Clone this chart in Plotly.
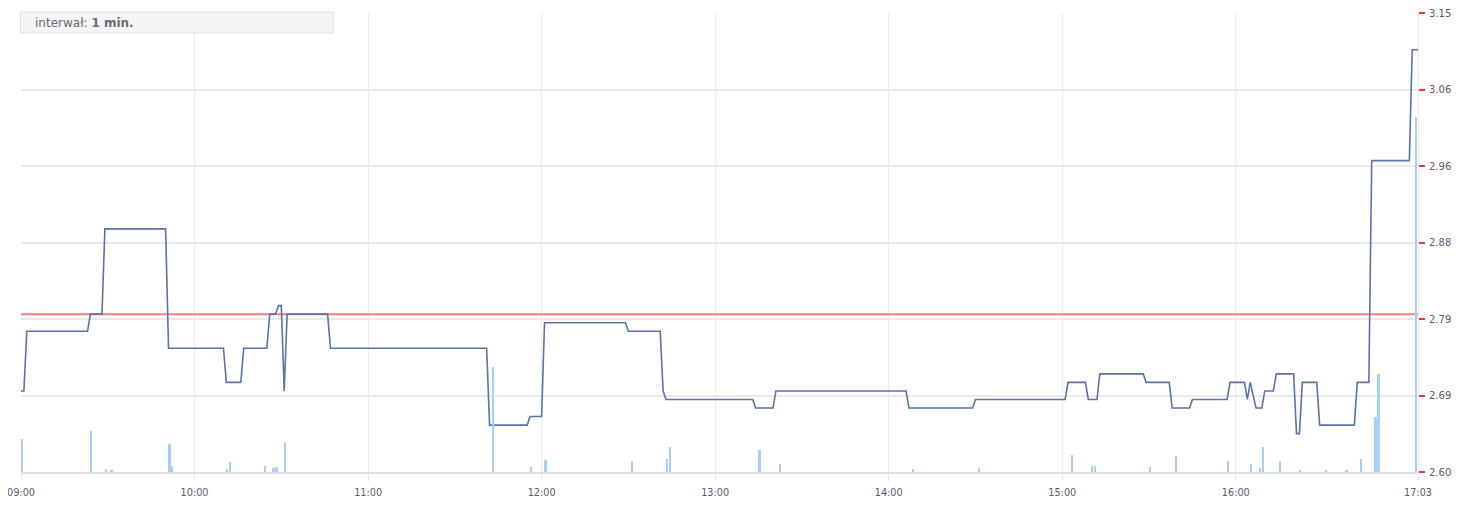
import plotly.graph_objects as go
import numpy as np
import pandas as pd

DAY = "2024-01-02 "

# Price path (vertices of the intraday line), 1-minute interval
price_times = ["09:00","09:01","09:02","09:23","09:24","09:28","09:29","09:50","09:51","10:10",
               "10:11","10:16","10:17","10:25","10:26","10:28","10:29","10:30","10:31","10:32",
               "10:46","10:47","11:41","11:42","11:55","11:56","12:00","12:01","12:29","12:30",
               "12:41","12:42","12:43","13:13","13:14","13:20","13:21","14:06","14:07","14:29",
               "14:30","15:01","15:02","15:08","15:09","15:12","15:13","15:28","15:29","15:37",
               "15:38","15:44","15:45","15:57","15:58","16:03","16:04","16:05","16:07","16:09",
               "16:10","16:13","16:14","16:20","16:21","16:22","16:23","16:28","16:29","16:41",
               "16:42","16:46","16:47","17:00","17:01","17:03"]
prices = [2.70,2.70,2.77,2.77,2.79,2.79,2.89,2.89,2.75,2.75,
          2.71,2.71,2.75,2.75,2.79,2.79,2.80,2.80,2.70,2.79,
          2.79,2.75,2.75,2.66,2.66,2.67,2.67,2.78,2.78,2.77,
          2.77,2.70,2.69,2.69,2.68,2.68,2.70,2.70,2.68,2.68,
          2.69,2.69,2.71,2.71,2.69,2.69,2.72,2.72,2.71,2.71,
          2.68,2.68,2.69,2.69,2.71,2.71,2.69,2.71,2.68,2.68,
          2.70,2.70,2.72,2.72,2.65,2.65,2.71,2.71,2.66,2.66,
          2.71,2.71,2.97,2.97,3.10,3.10]

# Volume per minute
volume_times = ["09:00","09:24","09:29","09:31","09:51","09:52","10:11","10:12","10:24","10:27",
                "10:28","10:31","11:43","11:56","12:01","12:31","12:43","12:44","13:15","13:22",
                "14:08","14:31","15:03","15:10","15:11","15:30","15:39","15:57","16:05","16:08",
                "16:09","16:15","16:22","16:31","16:38","16:43","16:48","16:49","17:02","17:03"]
volumes = [3300,4100,350,250,2800,600,350,1000,600,400,
           500,3000,10500,500,1200,1100,1300,2500,2200,800,
           300,400,1700,600,600,500,1600,1100,800,400,
           2500,1100,200,200,150,1300,5500,9800,35500,2100]

reference_price = 2.79
session = ["09:00", "17:03"]

x_tick_labels = ["09:00","10:00","11:00","12:00","13:00","14:00","15:00","16:00","17:03"]
y_tick_labels = ["2.60","2.69","2.79","2.88","2.96","3.06","3.15"]

y_min, y_max = 2.605, 3.143
vol_max = 45900

def ts(t):
    return pd.Timestamp(DAY + t)

fig = go.Figure()

fig.add_trace(go.Bar(
    x=[ts(t) for t in volume_times], y=volumes, yaxis="y2",
    marker=dict(color="#a6d0fa", line=dict(width=0)),
    width=48000, offset=-6000, hoverinfo="skip"))

fig.add_trace(go.Scatter(
    x=[ts(t) for t in session], y=[reference_price, reference_price],
    mode="lines", line=dict(color="#f27f7f", width=2), hoverinfo="skip"))

fig.add_trace(go.Scatter(
    x=[ts(t) for t in price_times], y=prices,
    mode="lines", line=dict(color="#5b73ab", width=1.6)))

font_family = "DejaVu Sans, Verdana, sans-serif"
y_tick_font = dict(family=font_family, size=10, color="#5a5a6a")
x_tick_font = dict(family=font_family, size=9.7, color="#5a5a6a")

fig.update_layout(
    width=1463, height=506,
    margin=dict(l=12.7, r=53, t=5, b=42),
    paper_bgcolor="white", plot_bgcolor="white",
    showlegend=False, bargap=0,
    xaxis=dict(
        range=[ts(session[0]), ts(session[1])],
        tickvals=[ts(t) for t in x_tick_labels], ticktext=x_tick_labels,
        showgrid=True, gridcolor="#ececec", gridwidth=1,
        ticks="outside", ticklen=7, tickcolor="#e6e6e6",
        showline=True, linecolor="#dedede", linewidth=2,
        tickfont=x_tick_font, ticklabelstandoff=3, zeroline=False, fixedrange=True,
        automargin=False, ticklabeloverflow="allow"),
    yaxis=dict(
        side="right", range=[y_min, y_max],
        tickvals=list(np.linspace(y_min, y_max, len(y_tick_labels))), ticktext=y_tick_labels,
        showgrid=True, gridcolor="#e9e9e9", gridwidth=1.5,
        ticks="outside", ticklen=6, tickwidth=2, tickcolor="#e53935",
        showline=True, linecolor="#ececec", linewidth=1,
        tickfont=y_tick_font, ticklabelstandoff=2, zeroline=False,
        automargin=False, ticklabeloverflow="allow"),
    yaxis2=dict(overlaying="y", range=[0, vol_max], visible=False, showgrid=False),
)

fig.add_shape(type="rect", xref="paper", yref="paper",
              x0=-0.0005, x1=0.2235, y0=0.9564, y1=1.002,
              fillcolor="#f4f5f5", line=dict(color="#dde1e5", width=1), layer="above")
fig.add_annotation(xref="paper", yref="paper", x=0.0088, y=0.9793,
                   xanchor="left", yanchor="middle", showarrow=False,
                   text="interwał: <b>1 min.</b>",
                   font=dict(family=font_family, size=12, color="#6a6a78"))

fig.write_html("out.html")
